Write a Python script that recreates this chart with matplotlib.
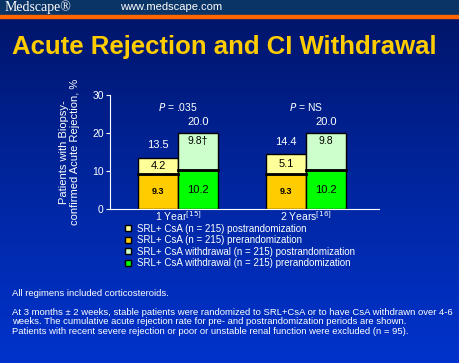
import matplotlib
matplotlib.use("Agg")
import matplotlib.pyplot as plt
import numpy as np
from matplotlib.patches import Rectangle
from matplotlib.lines import Line2D

plt.rcParams['font.family'] = ['Liberation Sans', 'DejaVu Sans']

# data
groups = ["1 Year$^{[15]}$", "2 Years$^{[16]}$"]
csa_pre = [9.3, 9.3]
csa_post = [4.2, 5.1]
wd_pre = [10.2, 10.2]
wd_post = [9.8, 9.8]
csa_total = [13.5, 14.4]
wd_total = [20.0, 20.0]
wd_post_labels = ["9.8\u2020", "9.8"]
p_labels = ["$P$ = .035", "$P$ = NS"]
legend_labels = [
    "SRL+ CsA (n = 215) postrandomization",
    "SRL+ CsA (n = 215) prerandomization",
    "SRL+ CsA withdrawal (n = 215) postrandomization",
    "SRL+ CsA withdrawal (n = 215) prerandomization",
]

gold = "#ffcc00"
pale_yellow = "#ffff99"
green = "#00ff00"
pale_green = "#ccffcc"

fig = plt.figure(figsize=(4.6, 3.63), dpi=100)

# background gradient: navy at top -> royal blue at bottom
bg = fig.add_axes([0, 0, 1, 1])
bg.set_axis_off()
grad = np.linspace(0, 1, 256).reshape(-1, 1)
c_top = np.array([0x00, 0x12, 0x60]) / 255
c_bot = np.array([0x00, 0x33, 0xcc]) / 255
img = c_top + (c_bot - c_top) * grad[:, :, None] ** 0.8
bg.imshow(img, aspect="auto", extent=[0, 1, 0, 1], origin="upper")
bg.set_xlim(0, 1)
bg.set_ylim(0, 1)

# header strip
bg.add_patch(Rectangle((0, 1 - 15 / 363), 1, 15 / 363, color="#0a3366", zorder=2))
bg.add_patch(Rectangle((0, 1 - 17.5 / 363), 1, 2.5 / 363, color="#ff6600", zorder=2))
bg.text(5 / 460, 1 - 7.5 / 363, "Medscape\u00ae", family="Liberation Serif",
        color="white", fontsize=10, va="center", zorder=3)
bg.text(120 / 460, 1 - 7.5 / 363, "www.medscape.com", color="white",
        fontsize=8, va="center", zorder=3)

# title
bg.text(0.487, 1 - 47 / 363, "Acute Rejection and CI Withdrawal", color="#ffcc00",
        fontsize=18.5, fontweight="bold", ha="center", va="center")

# chart
ax = fig.add_axes([110 / 460, 1 - 209 / 363, 269 / 460, 114 / 363])
ax.set_facecolor("none")
x = np.arange(len(groups))
w = 0.31
x1 = x - w / 2
x2 = x + w / 2
ax.bar(x1, csa_pre, w, color=gold, edgecolor="black", linewidth=1)
ax.bar(x1, csa_post, w, bottom=csa_pre, color=pale_yellow, edgecolor="black", linewidth=1)
ax.bar(x2, wd_pre, w, color=green, edgecolor="black", linewidth=1)
ax.bar(x2, wd_post, w, bottom=wd_pre, color=pale_green, edgecolor="black", linewidth=1)
# thick separators between stacked segments
for i in range(len(groups)):
    ax.plot([x1[i] - w / 2, x1[i] + w / 2], [csa_pre[i]] * 2, color="black", lw=2)
    ax.plot([x2[i] - w / 2, x2[i] + w / 2], [wd_pre[i]] * 2, color="black", lw=2)

for i in range(len(groups)):
    ax.text(x1[i], csa_pre[i] / 2, f"{csa_pre[i]:.1f}", ha="center", va="center",
            fontsize=6.5, fontweight="bold", color="black")
    ax.text(x1[i], csa_pre[i] + csa_post[i] / 2, f"{csa_post[i]:.1f}", ha="center",
            va="center", fontsize=8, color="black")
    ax.text(x2[i], wd_pre[i] / 2, f"{wd_pre[i]:.1f}", ha="center", va="center",
            fontsize=8, color="black")
    ax.text(x2[i], wd_total[i] - 2.0, wd_post_labels[i], ha="center", va="center",
            fontsize=7.5, color="black")
    ax.text(x1[i], csa_total[i] + 3.3, f"{csa_total[i]:.1f}", ha="center",
            va="center", fontsize=8, color="white")
    ax.text(x2[i], wd_total[i] + 2.9, f"{wd_total[i]:.1f}", ha="center",
            va="center", fontsize=8, color="white")
    ax.text(x[i], 26.8, p_labels[i], ha="center", va="center", fontsize=7.5,
            color="white")

ax.set_xlim(-0.531, 1.57)
ax.set_ylim(0, 30)
ax.set_yticks([0, 10, 20, 30])
ax.set_xticks(x)
ax.set_xticklabels(groups)
for s in ["top", "right"]:
    ax.spines[s].set_visible(False)
for s in ["left", "bottom"]:
    ax.spines[s].set_color("white")
ax.tick_params(colors="white", labelsize=7.5, length=3, pad=1.5)
ax.tick_params(axis="x", length=0, pad=0.5)
ax.set_ylabel("Patients with Biopsy-\nconfirmed Acute Rejection, %", color="white",
              fontsize=8, labelpad=9, linespacing=1.1)

# legend
handles = [Line2D([], [], marker="s", linestyle="none", markersize=5,
                  markerfacecolor=c, markeredgecolor="black")
           for c in [pale_yellow, gold, pale_green, green]]
leg = fig.legend(handles, legend_labels, loc="upper left",
                 bbox_to_anchor=(120 / 460, 1 - 220 / 363), frameon=False,
                 fontsize=7, labelcolor="white", handlelength=0.8,
                 handletextpad=0.5, labelspacing=0.15, borderaxespad=0)

# footnotes
bg.text(12 / 460, 1 - 293 / 363, "All regimens included corticosteroids.",
        color="white", fontsize=6.8, va="center")
bg.text(12 / 460, 1 - 322 / 363,
        "At 3 months \u00b1 2 weeks, stable patients were randomized to SRL+CsA or to have CsA withdrawn over 4-6\n"
        "weeks. The cumulative acute rejection rate for pre- and postrandomization periods are shown.\n"
        "Patients with recent severe rejection or poor or unstable renal function were excluded (n = 95).",
        color="white", fontsize=6.8, va="center", linespacing=1.12)

fig.savefig("out.png", dpi=100)
